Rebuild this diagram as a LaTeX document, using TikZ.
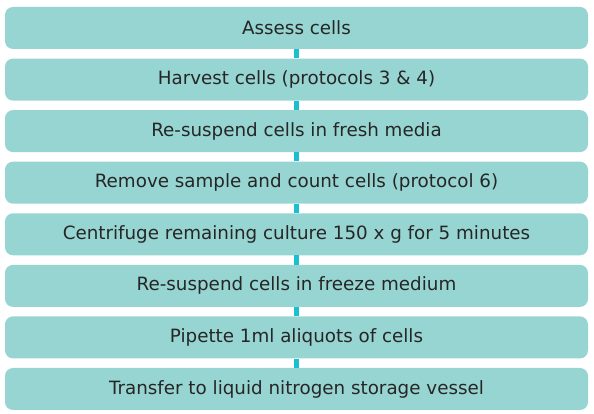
\documentclass[tikz,border=0pt]{standalone}
\usepackage{fontspec}
\setmainfont{DejaVu Sans}
\usepackage{xcolor}
\definecolor{boxfill}{HTML}{97D5D2}
\definecolor{linkcol}{HTML}{1ABFD0}
\tikzset{
  stepbox/.style={fill=boxfill, rounded corners=8pt, minimum width=583pt, minimum height=42pt,
    inner sep=0pt, text=black!85, font=\fontsize{18.3pt}{21pt}\selectfont},
  link/.style={draw=linkcol, line width=5pt}
}
\begin{document}
\begin{tikzpicture}[x=1pt, y=1pt]

    \useasboundingbox (0, 0) rectangle (594, 414);

    \node[stepbox] (a) at (296.5, 386) {Assess cells};
    \node[stepbox] (b) at (296.5, 334.4) {Harvest cells (protocols 3 \& 4)};
    \node[stepbox] (c) at (296.5, 282.9) {Re-suspend cells in fresh media};
    \node[stepbox] (d) at (296.5, 231.3) {Remove sample and count cells (protocol 6)};
    \node[stepbox] (e) at (296.5, 179.7) {Centrifuge remaining culture 150 x g for 5 minutes};
    \node[stepbox] (f) at (296.5, 128.1) {Re-suspend cells in freeze medium};
    \node[stepbox] (g) at (296.5, 76.6) {Pipette 1ml aliquots of cells};
    \node[stepbox] (h) at (296.5, 25) {Transfer to liquid nitrogen storage vessel};

    \draw [link] (a) -- (b);
    \draw [link] (b) -- (c);
    \draw [link] (c) -- (d);
    \draw [link] (d) -- (e);
    \draw [link] (e) -- (f);
    \draw [link] (f) -- (g);
    \draw [link] (g) -- (h);

\end{tikzpicture}
\end{document}
